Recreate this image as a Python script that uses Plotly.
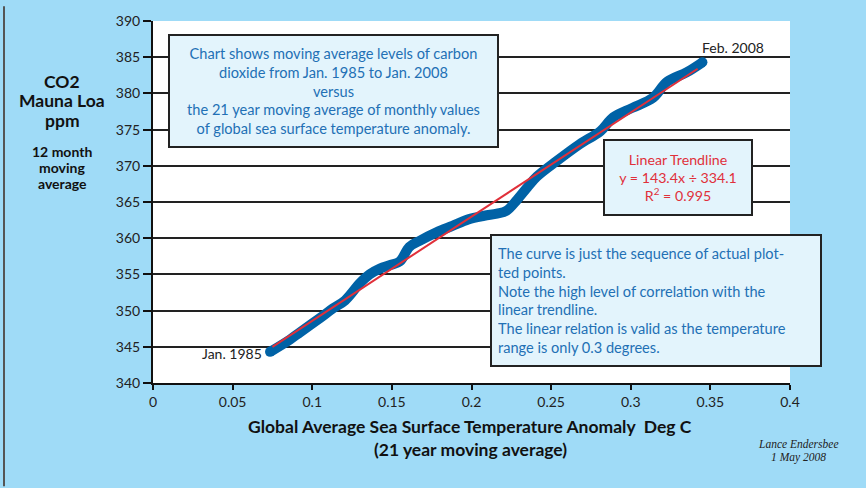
import plotly.graph_objects as go

# Data
sst_anomaly = [0.0735, 0.0860, 0.0923, 0.1050, 0.1130, 0.1206, 0.1300, 0.1360, 0.1425,
               0.1490, 0.1550, 0.1610, 0.1680, 0.1780, 0.1880, 0.1980, 0.2080, 0.2160,
               0.2220, 0.2286, 0.2350, 0.2410, 0.2537, 0.2680, 0.2810, 0.2890, 0.3010,
               0.3140, 0.3228, 0.3350, 0.3450]
co2_ppm = [344.3, 346.0, 347.0, 349.0, 350.3, 351.4, 353.8, 355.0, 355.8,
           356.3, 356.8, 358.8, 359.7, 360.8, 361.7, 362.6, 363.1, 363.4,
           363.8, 365.3, 367.0, 368.5, 370.7, 373.0, 374.8, 376.7, 378.0,
           379.4, 381.6, 382.9, 384.3]
trend_x = [0.075, 0.342]
trend_y = [345.0, 383.4]

x_ticks = [0, 0.05, 0.1, 0.15, 0.2, 0.25, 0.3, 0.35, 0.4]
x_tick_labels = ["0", "0.05", "0.1", "0.15", "0.2", "0.25", "0.3", "0.35", "0.4"]
y_ticks = [340, 345, 350, 355, 360, 365, 370, 375, 380, 385, 390]

FONT = "Lato"
BG = "#9FDBF7"
BOXBG = "#E3F4FC"
BLUE_TXT = "#2270B5"
RED_TXT = "#E0303A"

W, H = 866, 488
L, R, T, B = 153, 76, 15, 105
PW, PH = W - L - R, H - T - B

def px(xp):
    return (xp - L) / PW

def py(yp):
    return 1 - (yp - T) / PH

fig = go.Figure()
fig.add_trace(go.Scatter(x=sst_anomaly, y=co2_ppm, mode="lines",
                         line=dict(color="#0062A6", width=10, shape="spline"),
                         hoverinfo="skip", showlegend=False))
fig.add_trace(go.Scatter(x=[sst_anomaly[0], sst_anomaly[-1]], y=[co2_ppm[0], co2_ppm[-1]],
                         mode="markers", marker=dict(color="#0062A6", size=10),
                         hoverinfo="skip", showlegend=False))
fig.add_trace(go.Scatter(x=trend_x, y=trend_y, mode="lines",
                         line=dict(color="#E0303A", width=2),
                         hoverinfo="skip", showlegend=False))

ann = []
# point labels
ann.append(dict(x=sst_anomaly[0], y=co2_ppm[0], xref="x", yref="y", text="Jan. 1985",
                showarrow=False, xanchor="right", yanchor="middle", xshift=-6, yshift=-2,
                font=dict(family=FONT, size=14, color="#222")))
ann.append(dict(x=sst_anomaly[-1], y=co2_ppm[-1], xref="x", yref="y", text="Feb. 2008",
                showarrow=False, xanchor="left", yanchor="bottom", xshift=-2, yshift=4,
                font=dict(family=FONT, size=14, color="#222")))

# Text box 1
ann.append(dict(x=px(333.5), y=py(86), xref="paper", yref="paper", showarrow=False,
                text=("Chart shows moving average levels of carbon<br>dioxide from Jan. 1985 to Jan. 2008"
                      "<br>versus<br>the 21 year moving average of monthly values"
                      "<br>of global sea surface temperature anomaly."),
                align="center", width=327, height=110, bgcolor=BOXBG,
                bordercolor="#222", borderwidth=2, borderpad=0,
                xanchor="center", yanchor="middle",
                font=dict(family=FONT, size=14.6, color=BLUE_TXT)))
# Text box 2
ann.append(dict(x=px(678), y=py(174.5), xref="paper", yref="paper", showarrow=False,
                text="Linear Trendline<br>y = 143.4x ÷ 334.1<br>R<sup>2</sup> = 0.995",
                align="center", width=146, height=73, bgcolor=BOXBG,
                bordercolor="#222", borderwidth=2, borderpad=0,
                xanchor="center", yanchor="middle",
                font=dict(family=FONT, size=14.2, color=RED_TXT)))
# Text box 3
ann.append(dict(x=px(656), y=py(299.5), xref="paper", yref="paper", showarrow=False,
                text=("The curve is just the sequence of actual plot-<br>ted points."
                      "<br>Note the high level of correlation with the<br>linear trendline."
                      "<br>The linear relation is valid as the temperature<br>range is only 0.3 degrees."),
                align="left", width=316, height=117, bgcolor=BOXBG,
                bordercolor="#222", borderwidth=2, borderpad=6,
                xanchor="center", yanchor="middle",
                font=dict(family=FONT, size=14.6, color=BLUE_TXT)))

# Left titles
for txt, yp, sz in [("CO2", 76, 17.5), ("Mauna Loa", 96, 17.5), ("ppm", 116, 17.5),
                    ("12 month", 148, 14), ("moving", 164, 14), ("average", 180, 14)]:
    ann.append(dict(x=px(62), y=py(yp), xref="paper", yref="paper", text="<b>%s</b>" % txt,
                    showarrow=False, xanchor="center", yanchor="middle",
                    font=dict(family=FONT, size=sz, color="#111")))

# X title
ann.append(dict(x=px(470), y=py(427), xref="paper", yref="paper",
                text="<b>Global Average Sea Surface Temperature Anomaly  Deg C</b>",
                showarrow=False, xanchor="center", yanchor="middle",
                font=dict(family=FONT, size=17.5, color="#111")))
ann.append(dict(x=px(470), y=py(451), xref="paper", yref="paper",
                text="<b>(21 year moving average)</b>",
                showarrow=False, xanchor="center", yanchor="middle",
                font=dict(family=FONT, size=17.5, color="#111")))
# Signature
ann.append(dict(x=px(798), y=py(445), xref="paper", yref="paper",
                text="<i>Lance Endersbee</i>", showarrow=False, xanchor="center", yanchor="middle",
                font=dict(family="Liberation Serif", size=11.5, color="#222")))
ann.append(dict(x=px(798), y=py(459), xref="paper", yref="paper",
                text="<i>1 May 2008</i>", showarrow=False, xanchor="center", yanchor="middle",
                font=dict(family="Liberation Serif", size=11.5, color="#222")))

shapes = [dict(type="line", xref="paper", yref="paper", x0=px(4), x1=px(4), y0=py(0), y1=py(488),
               line=dict(color="#555", width=2))]

fig.update_layout(
    width=W, height=H,
    margin=dict(l=L, r=R, t=T, b=B),
    paper_bgcolor=BG, plot_bgcolor="white",
    font=dict(family=FONT, size=14, color="#222"),
    annotations=ann, shapes=shapes,
    xaxis=dict(range=[0, 0.4], tickvals=x_ticks, ticktext=x_tick_labels,
               showgrid=False, zeroline=False, showline=True, linecolor="#111", linewidth=2,
               ticks="outside", ticklen=5, tickwidth=2, tickcolor="#111",
               tickfont=dict(family=FONT, size=14, color="#222")),
    yaxis=dict(range=[340, 390], tickvals=y_ticks,
               showgrid=True, gridcolor="#222", gridwidth=1.5, zeroline=False,
               showline=True, linecolor="#111", linewidth=2,
               ticks="outside", ticklen=8, tickwidth=2, tickcolor="#111",
               tickfont=dict(family=FONT, size=14, color="#222")),
)

fig.write_html("out.html", config={"displayModeBar": False},
               post_script="document.body.style.margin='0';document.body.style.background='#9FDBF7';")
